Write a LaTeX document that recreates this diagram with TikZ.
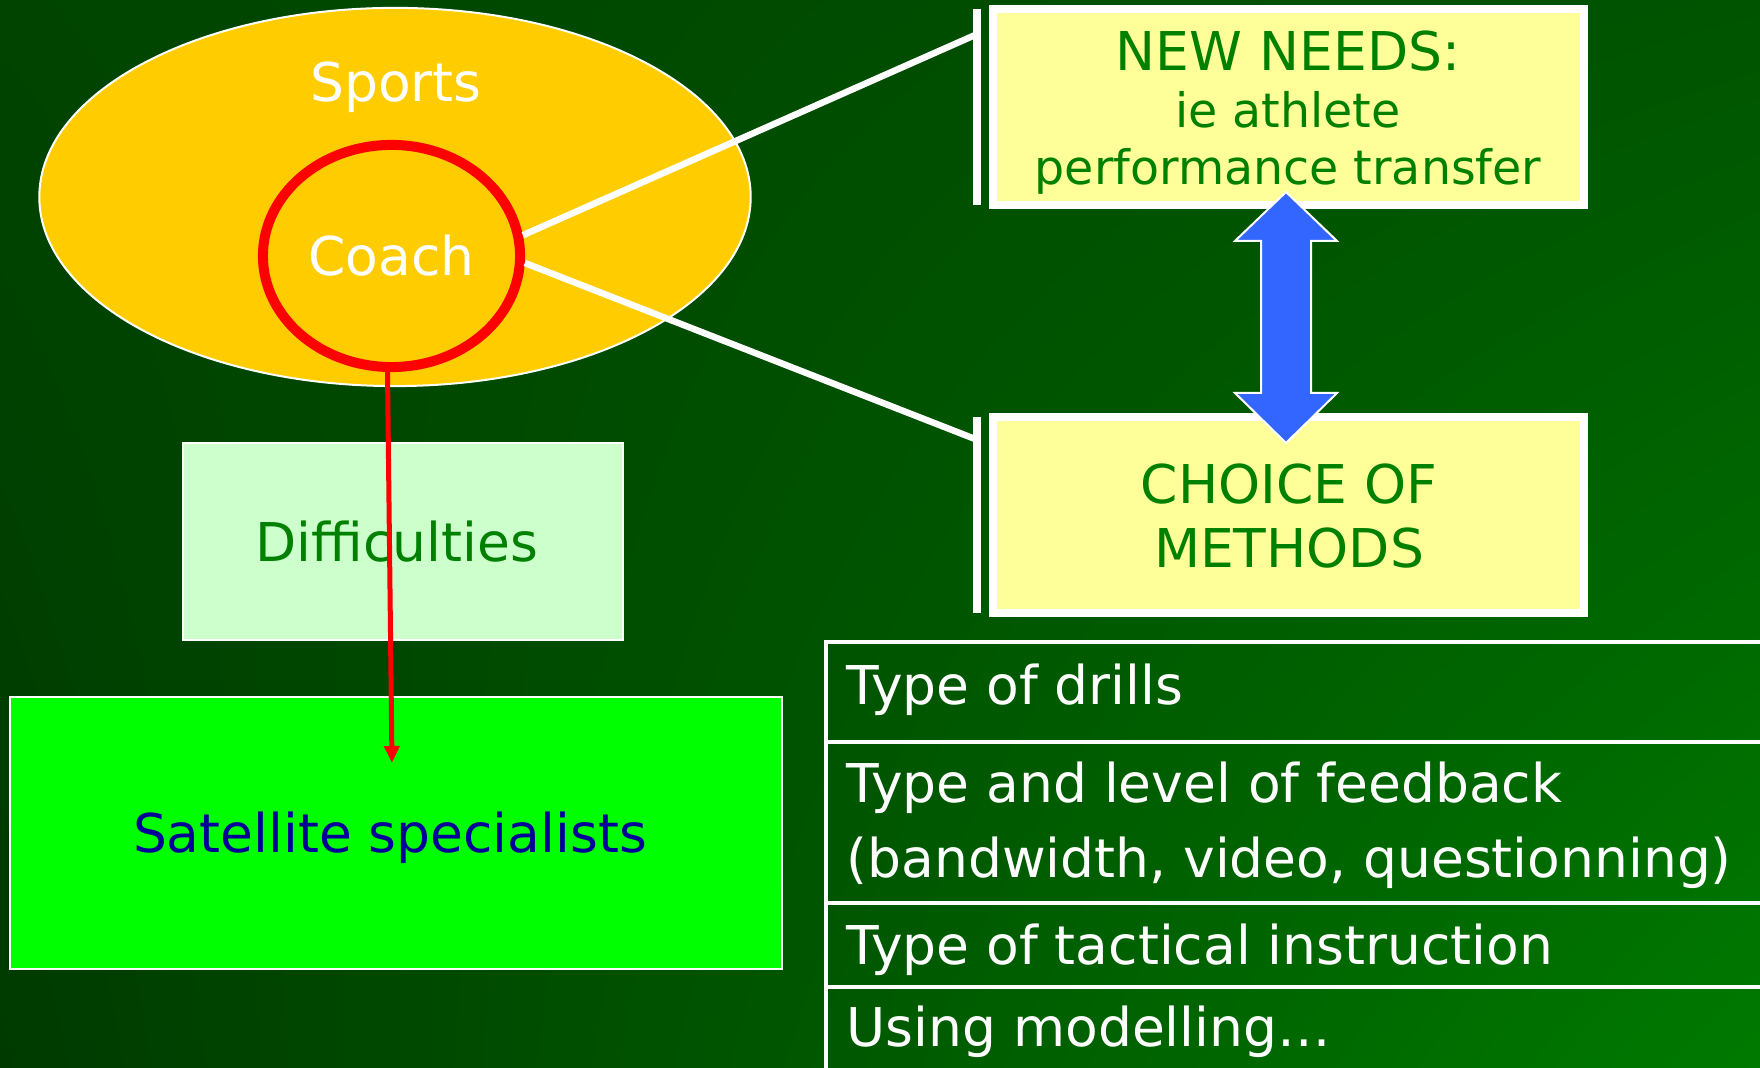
\documentclass[tikz,border=0pt]{standalone}
\usepackage{fontspec}
\setmainfont{DejaVu Sans}
\usetikzlibrary{shapes.geometric,arrows.meta,shadings}
\definecolor{bgA}{RGB}{0,68,0}
\definecolor{bgB}{RGB}{0,84,0}
\definecolor{bgC}{RGB}{0,58,0}
\definecolor{bgD}{RGB}{0,122,0}
\definecolor{sportsyellow}{HTML}{FFCC00}
\definecolor{needyellow}{HTML}{FFFF99}
\definecolor{diffgreen}{HTML}{CCFFCC}
\definecolor{satgreen}{HTML}{00FF00}
\definecolor{txtgreen}{HTML}{008000}
\definecolor{satblue}{HTML}{000099}
\definecolor{arrowblue}{HTML}{3366FF}
\tikzset{
  plain/.style={
    font=\fontsize{15.2}{18}\selectfont
  },
  sportsarea/.style={
    shape=ellipse,
    draw=white,
    fill=sportsyellow,
    line width=0.02cm,
    inner sep=0,
    outer sep=0,
    minimum width=7.11cm,
    minimum height=3.78cm
  },
  coachring/.style={
    shape=ellipse,
    draw=red,
    line width=0.1cm,
    inner sep=0,
    outer sep=0.05cm,
    minimum width=2.57cm,
    minimum height=2.22cm,
    text=white,
    plain
  },
  flatbox/.style={
    draw=white,
    line width=0.02cm,
    inner sep=0,
    outer sep=0
  },
  boxlabel/.style={
    inner sep=0,
    xshift=-0.06cm,
    plain
  },
  needbox/.style={
    draw=white,
    fill=needyellow,
    line width=0.08cm,
    inner sep=0,
    outer sep=0,
    minimum width=5.9cm,
    minimum height=1.96cm
  },
  needtxt/.style={
    anchor=base,
    inner sep=0,
    text=txtgreen,
    plain
  },
  rowtxt/.style={
    anchor=base west,
    inner sep=0,
    text=white,
    plain
  },
  bar/.style={white, line width=0.08cm},
  link/.style={white, line width=0.065cm},
  rowline/.style={white, line width=0.04cm},
  pointer/.style={red, line width=0.05cm, -{Triangle[length=0.17cm,width=0.15cm]}},
  updown/.style={draw=white, fill=arrowblue, line width=0.02cm}
}

\begin{document}
\begin{tikzpicture}[x=0.01cm,y=-0.01cm]
  \useasboundingbox (0,0) rectangle (1760,1068);
  \shade[upper left=bgA, upper right=bgB, lower left=bgC, lower right=bgD] (0,0) rectangle (1760,1068);

  % left column
  \node[sportsarea] (sports) at (395,197) {};
  \node[plain, text=white, anchor=base, inner sep=0] (sportslbl) at (396,102) {Sports};
  \node[flatbox, fill=diffgreen, minimum width=4.39cm, minimum height=1.97cm,
    label={[boxlabel, text=txtgreen]center:Difficulties}] (diff) at (403,541.5) {};
  \node[flatbox, fill=satgreen, line width=0.025cm, minimum width=7.72cm, minimum height=2.72cm,
    label={[boxlabel, yshift=-0.05cm, text=satblue]center:Satellite specialists}] (sat) at (396,833) {};

  % right column
  \node[needbox] (needs) at (1288.5,107) {};
  \node[needtxt] (needs1) at (1288,71) {NEW NEEDS:};
  \node[needtxt, font=\fontsize{13.5}{16}\selectfont] (needs2) at (1288,128) {ie athlete};
  \node[needtxt, font=\fontsize{13.5}{16}\selectfont] (needs3) at (1288,185) {performance transfer};
  \node[needbox] (methods) at (1288.5,515) {};
  \node[needtxt] (methods1) at (1289,504) {CHOICE OF};
  \node[needtxt] (methods2) at (1289,568) {METHODS};
  \foreach \b in {needs,methods}{
    \draw[bar] ([xshift=-0.164cm]\b.north west) -- ([xshift=-0.164cm]\b.south west);
  }

  \node[coachring] (coach) at (391.5,256) {Coach};
  \draw[link] (coach.9) -- ([shift={(-16.4,25.3)}]needs.north west);
  \draw[link] (coach.-3) -- ([shift={(-16.4,22.8)}]methods.north west);

  \coordinate (hit) at (392,763);
  \draw[pointer] ([xshift=-0.04cm]coach.south) -- (hit);

  % two-way arrow between the yellow boxes
  \coordinate (mid) at (1286,317.5);
  \draw[updown] (mid) ++(0,-125.5) --++ (51,49) --++ (-26,0) --++ (0,152) --++ (26,0)
    --++ (-51,50) --++ (-51,-50) --++ (26,0) --++ (0,-152) --++ (-26,0) -- cycle;

  % list of methods
  \draw[rowline] (826,1068) -- (826,642) -- (1760,642);
  \foreach \y in {742,903,987}{
    \draw[rowline] (826,\y) -- (1760,\y);
  }
  \foreach \n/\y/\t in {1/705/Type of drills, 2/803/Type and level of feedback,
      3/878/{(bandwidth, video, questionning)}, 4/965/Type of tactical instruction,
      5/1047/Using modelling…}{
    \node[rowtxt] (row\n) at (846,\y) {\t};
  }
\end{tikzpicture}
\end{document}
